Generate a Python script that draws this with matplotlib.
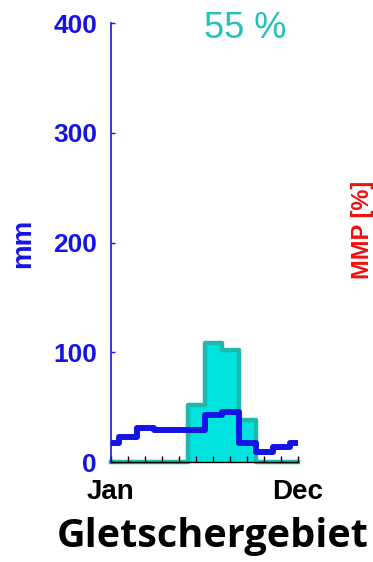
import numpy as np
import matplotlib.pyplot as plt

plt.rcParams['font.family'] = ['Liberation Sans', 'DejaVu Sans']

# monthly data
months = np.arange(1, 13)
month_labels = ['Jan', '', '', '', '', '', '', '', '', '', '', 'Dec']
precip = [17, 23, 31, 29, 29, 29, 43, 46, 17, 9, 14, 17]   # mm, blue line
melt = [0, 0, 0, 0, 0, 52, 108, 102, 38, 0, 0, 0]          # mm, cyan bars
yticks = [0, 100, 200, 300, 400]
share_label = '55 %'
region = 'Gletschergebiet'

blue = '#1414e6'
cyan_fill = '#00e3df'
cyan_edge = '#1fb8ad'

fig = plt.figure(figsize=(3.73, 5.62), dpi=100)
ax = fig.add_axes([111/373, 1 - 462/562, (298 - 111)/373, (462 - 23)/562])

ax.fill_between(months, melt, step='mid', color=cyan_fill, lw=0, zorder=1)
ax.step(months, melt, where='mid', color=cyan_edge, lw=3.2, zorder=1.5, clip_on=False)
ax.step(months, precip, where='mid', color=blue, lw=4.3, zorder=3)

ax.set_xlim(1, 12)
ax.set_ylim(0, 400)
ax.set_xticks(months)
ax.set_xticklabels(month_labels, fontsize=20, fontweight='bold')
ax.set_yticks(yticks)
ax.set_yticklabels([str(v) for v in yticks], fontsize=19, fontweight='bold', color=blue)

ax.tick_params(axis='x', direction='in', length=4, width=1, colors='black', pad=12)
ax.tick_params(axis='y', direction='in', length=3, width=1, colors=blue, pad=10)
ax.spines['top'].set_visible(False)
ax.spines['right'].set_visible(False)
ax.spines['left'].set_color(blue)
ax.spines['left'].set_linewidth(1.2)
ax.spines['bottom'].set_color('black')
ax.spines['bottom'].set_linewidth(1.0)

fig.text(245/373, 1 - 28/562, share_label, color='#22c2b8', fontsize=26,
         ha='center', va='center')
fig.text(23/373, 1 - 243/562, 'mm', color=blue, fontsize=20, fontweight='bold',
         rotation=90, ha='center', va='center')
fig.text(362/373, 1 - 230/562, 'MMP [%]', color='#ee1111', fontsize=17, fontweight='bold',
         rotation=90, ha='center', va='center')
fig.text(213/373, 1 - 547/562, region, color='black', fontsize=28.5, fontweight='bold',
         family=['Open Sans', 'DejaVu Sans'], ha='center', va='baseline')

fig.savefig('out.png', dpi=100)
